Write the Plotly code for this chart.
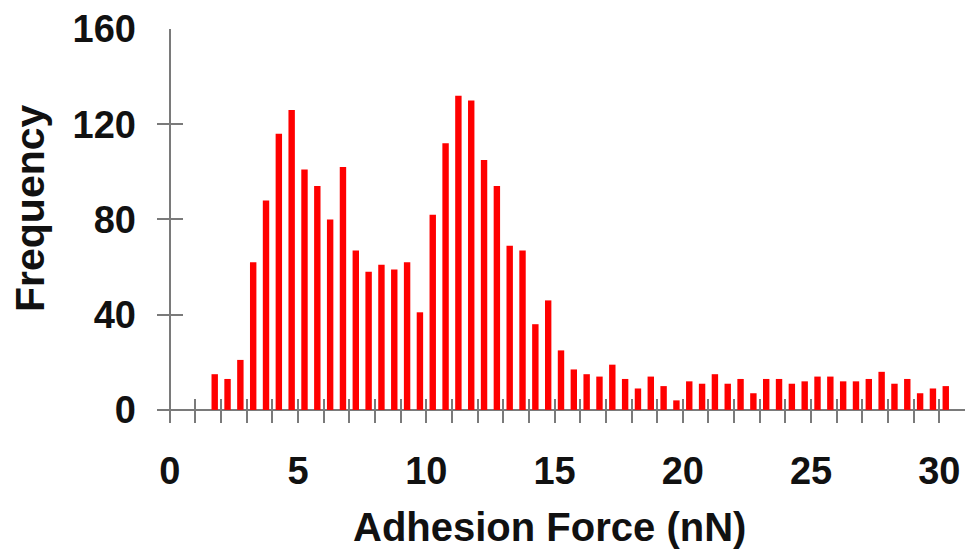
import plotly.graph_objects as go

# Histogram bins (bin centres, nN) and counts
force_nn = [1.75 + 0.5 * i for i in range(58)]
frequency = [
    15, 13, 21, 62, 88, 116, 126, 101, 94, 80,
    102, 67, 58, 61, 59, 62, 41, 82, 112, 132,
    130, 105, 94, 69, 67, 36, 46, 25, 17, 15,
    14, 19, 13, 9, 14, 10, 4, 12, 11, 15,
    11, 13, 7, 13, 13, 11, 12, 14, 14, 12,
    12, 13, 16, 11, 13, 7, 9, 10,
]

x_tick_vals = list(range(0, 32))
x_tick_text = [str(v) if v % 5 == 0 and v <= 30 else "" for v in x_tick_vals]
y_tick_vals = [0, 40, 80, 120, 160]

FONT = "Liberation Sans, Arial, sans-serif"
AXIS_GREY = "#7a7a7a"
TEXT = "#111111"

fig = go.Figure(
    go.Bar(
        x=force_nn,
        y=frequency,
        width=0.25,
        marker=dict(color="#ff0000", line=dict(width=0)),
    )
)

fig.update_layout(
    width=974,
    height=552,
    margin=dict(l=157, r=9, t=29, b=129),
    paper_bgcolor="white",
    plot_bgcolor="white",
    showlegend=False,
    font=dict(family=FONT, color=TEXT, size=38, weight="bold"),
    xaxis=dict(
        range=[-0.5, 31],
        tickvals=x_tick_vals,
        ticktext=x_tick_text,
        ticks="inside",
        ticklen=24,
        tickwidth=2,
        tickcolor=AXIS_GREY,
        showline=False,
        showgrid=False,
        zeroline=True,
        zerolinecolor=AXIS_GREY,
        zerolinewidth=2,
        ticklabelstandoff=22,
        tickfont=dict(family=FONT, size=38, color=TEXT, weight="bold"),
    ),
    yaxis=dict(
        range=[-5.5, 160],
        tickvals=y_tick_vals,
        ticks="inside",
        ticklen=26,
        tickwidth=2,
        tickcolor=AXIS_GREY,
        showline=False,
        showgrid=False,
        zeroline=True,
        zerolinecolor=AXIS_GREY,
        zerolinewidth=2,
        ticklabelstandoff=20,
        tickfont=dict(family=FONT, size=38, color=TEXT, weight="bold"),
    ),
    annotations=[
        dict(
            text="Adhesion Force (nN)",
            xref="paper", yref="paper",
            x=(549 - 157) / 808, y=-(527 - 423) / 394,
            xanchor="center", yanchor="middle",
            showarrow=False,
            font=dict(family=FONT, size=40, color=TEXT, weight="bold"),
        ),
        dict(
            text="Frequency",
            xref="paper", yref="paper",
            x=-(157 - 30) / 808, y=(423 - 208) / 394,
            xanchor="center", yanchor="middle",
            textangle=-90,
            showarrow=False,
            font=dict(family=FONT, size=41, color=TEXT, weight="bold"),
        ),
    ],
)

fig.write_html("out.html")
